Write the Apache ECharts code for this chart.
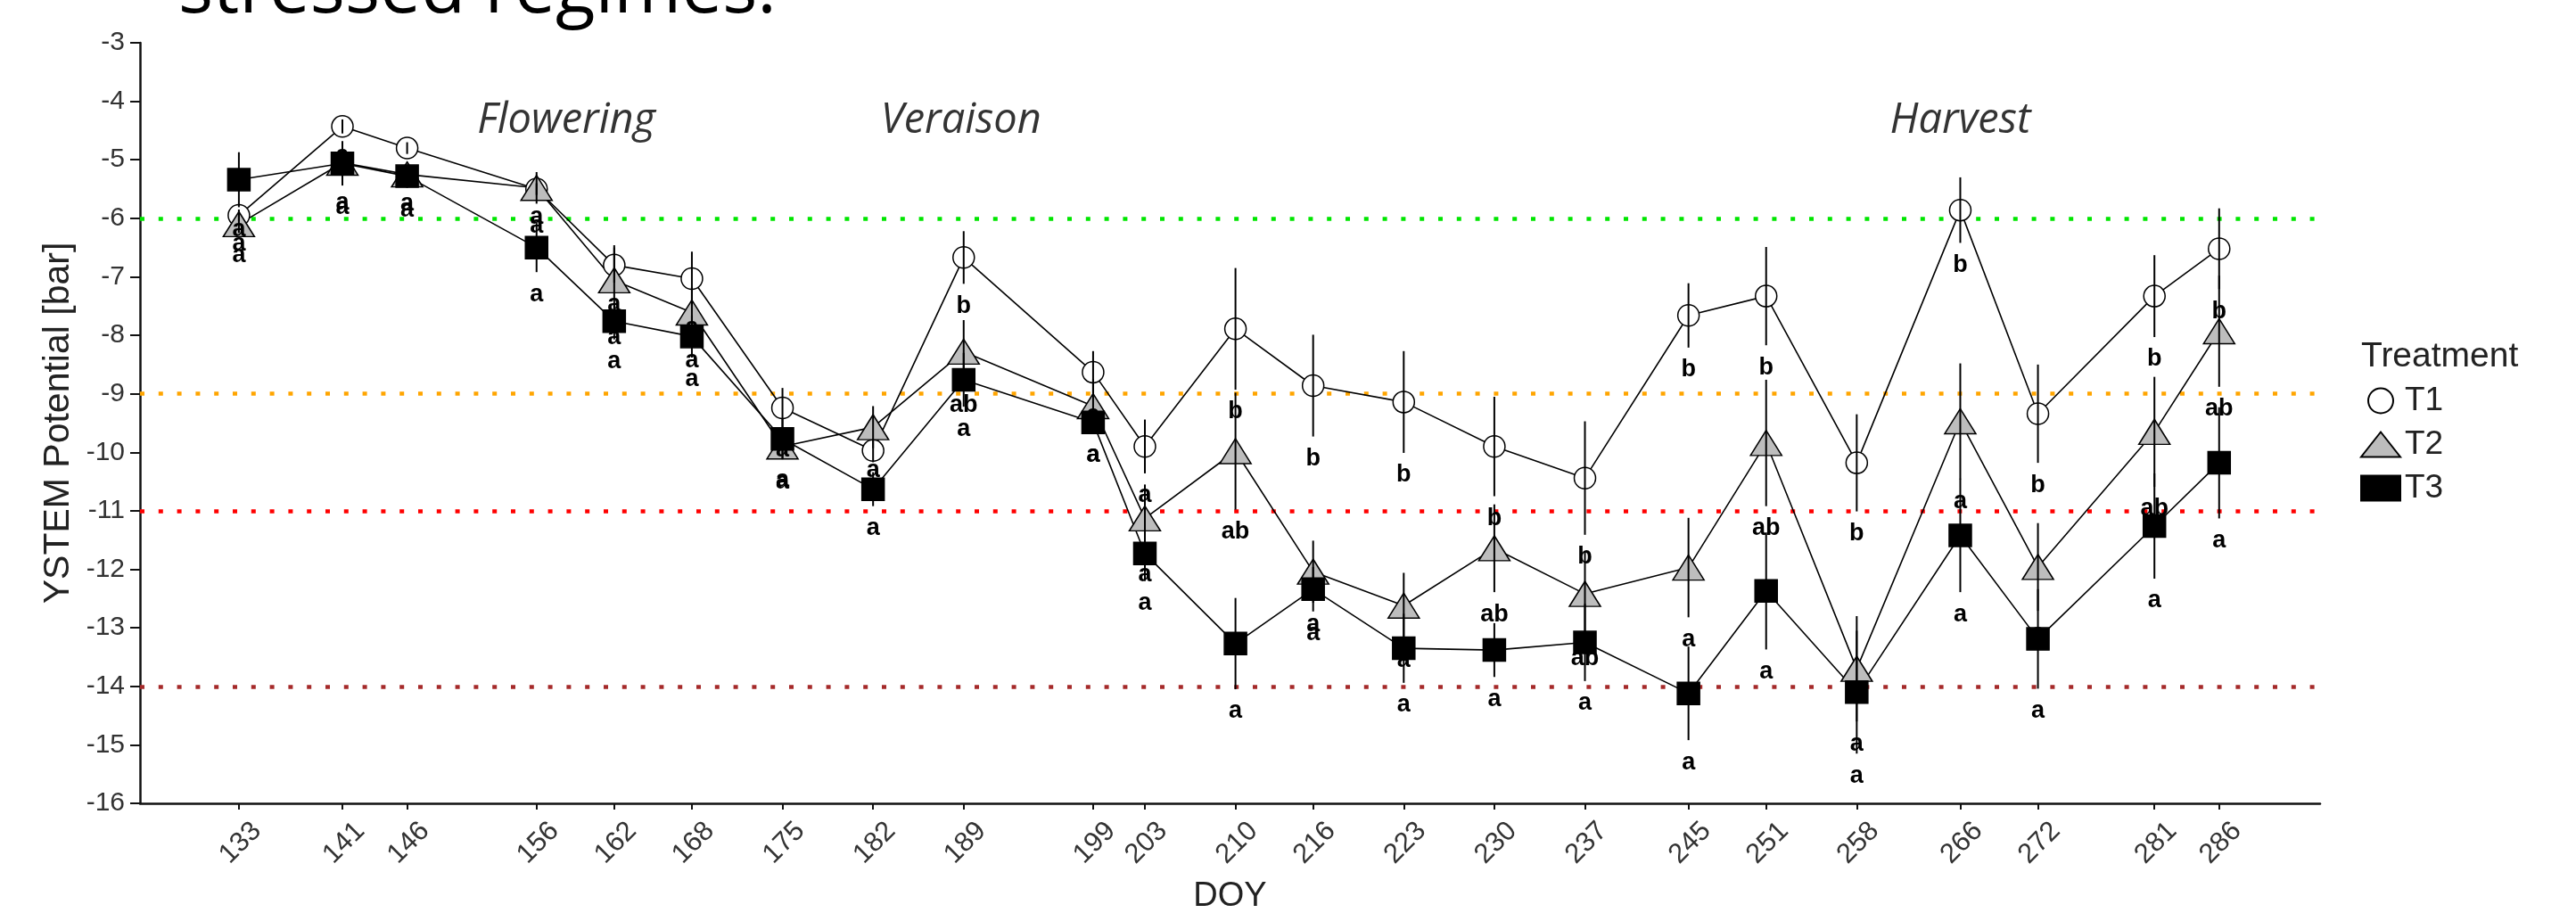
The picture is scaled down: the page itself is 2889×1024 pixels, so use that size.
<!DOCTYPE html>
<html>
<head>
<meta charset="utf-8">
<script src="https://cdn.jsdelivr.net/npm/echarts@6/dist/echarts.min.js"></script>
<style>
html,body{margin:0;padding:0;background:#fff;}
#chart{width:2889px;height:1024px;}
</style>
</head>
<body>
<div id="chart"></div>
<script>
// ---- data ----
const doy = [133,141,146,156,162,168,175,182,189,199,203,210,216,223,230,237,245,251,258,266,272,281,286];

const t1Mean = [-5.95,-4.43,-4.8,-5.5,-6.8,-7.03,-9.24,-9.97,-6.67,-8.63,-9.9,-7.89,-8.86,-9.14,-9.9,-10.44,-7.66,-7.33,-10.18,-5.86,-9.34,-7.33,-6.52];
const t2Mean = [-6.1,-5.05,-5.25,-5.48,-7.06,-7.61,-9.9,-9.57,-8.28,-9.21,-11.13,-9.98,-12.04,-12.62,-11.64,-12.42,-11.97,-9.84,-13.7,-9.47,-11.96,-9.65,-7.93];
const t3Mean = [-5.34,-5.06,-5.28,-6.5,-7.76,-8.02,-9.77,-10.63,-8.76,-9.49,-11.73,-13.27,-12.34,-13.35,-13.38,-13.25,-14.12,-12.37,-14.1,-11.42,-13.19,-11.26,-10.18];

const t1Se = [0.1,0.12,0.1,0.1,0.3,0.46,0.34,0.2,0.45,0.36,0.46,1.04,0.87,0.87,0.85,0.97,0.55,0.84,0.83,0.56,0.84,0.7,0.69];
const t2Se = [0.15,0.3,0.12,0.27,0.6,0.44,0.2,0.36,0.54,0.46,0.58,1.0,0.53,0.56,0.75,0.73,0.85,1.08,0.9,0.99,0.75,0.94,0.95];
const t3Se = [0.47,0.38,0.2,0.42,0.31,0.36,0.35,0.29,0.46,0.18,0.47,0.78,0.38,0.59,0.46,0.66,0.8,1.0,1.05,0.97,0.85,0.9,0.95];

const t1Letters = ['a','a','a','a','a','a','a','a','b','a','a','b','b','b','b','b','b','b','b','b','b','b','b'];
const t2Letters = ['a','a','a','a','a','a','a','a','ab','a','a','ab','a','a','ab','ab','a','ab','a','a','a','ab','ab'];
const t3Letters = ['a','a','a','a','a','a','a','a','a','a','a','a','a','a','a','a','a','a','a','a','a','a','a'];

const thresholds = [-6, -9, -11, -14];
const thresholdColors = ['#00e600', '#ffa500', '#ff0000', '#a52a2a'];

const phaseNames = ['Flowering', 'Veraison', 'Harvest'];
const phaseDoy = [158.3, 188.8, 266.0];
const phaseY = [-4.33, -4.33, -4.33];

// ---- chart ----
const FONT = '"Liberation Sans", Arial, sans-serif';
const LETTER_GAP = 0.38; // data units below the error bar end

function pairs(means){ return doy.map((d,i)=>[d, means[i]]); }

function errSeries(name, means, ses, letters){
  const data = doy.map((d,i)=>[d, means[i], ses[i]]);
  return {
    type:'custom', name: name + ' err', data: data, z: 5, silent: true,
    encode:{x:0, y:1},
    renderItem: function(params, api){
      const x = api.value(0), m = api.value(1), s = api.value(2);
      const top = api.coord([x, m + s]);
      const bot = api.coord([x, m - s]);
      const lab = api.coord([x, m - s - LETTER_GAP]);
      return {type:'group', children:[
        {type:'line', shape:{x1:top[0], y1:top[1], x2:bot[0], y2:bot[1]},
         style:{stroke:'#000', lineWidth:2}},
        {type:'text', x: lab[0], y: lab[1],
         style:{text: letters[params.dataIndex], fill:'#000',
                font:'bold 27px ' + FONT, align:'center', verticalAlign:'middle'}}
      ]};
    }
  };
}

function lineSeries(name, means, symbol, size, fill){
  return {
    type:'line', name: name, data: pairs(means), z: 3,
    symbol: symbol, symbolSize: size, showSymbol: true,
    lineStyle:{color:'#000', width:1.6},
    itemStyle:{color: fill, borderColor:'#000', borderWidth:1.5},
    emphasis:{disabled:true}
  };
}

const markLines = thresholds.map((v,i)=>({
  yAxis: v,
  lineStyle:{color: thresholdColors[i], width:4.5, type:[5, 15.8]}
}));

const series = [
  Object.assign(lineSeries('T1', t1Mean, 'circle', 24, '#ffffff'), {
    markLine:{silent:true, symbol:['none','none'], label:{show:false}, data: markLines, z:1}
  }),
  lineSeries('T2', t2Mean, 'triangle', [35, 28], '#bdbdbd'),
  lineSeries('T3', t3Mean, 'rect', 25, '#000000'),
  errSeries('T1', t1Mean, t1Se, t1Letters),
  errSeries('T2', t2Mean, t2Se, t2Letters),
  errSeries('T3', t3Mean, t3Se, t3Letters),
  {
    type:'scatter', name:'phases', silent:true, symbolSize:0, z:6,
    data: phaseNames.map((n,i)=>({name:n, value:[phaseDoy[i], phaseY[i]]})),
    label:{show:true, position:'inside', formatter: p => p.name,
      fontFamily:'"Open Sans", sans-serif', fontStyle:'italic', fontSize:47, color:'#000'}
  }
];

const chart = echarts.init(document.getElementById('chart'), null, {renderer:'canvas'});
chart.setOption({
  animation:false,
  backgroundColor:'#ffffff',
  grid:{left:157, right:287, top:48, bottom:123, containLabel:false, outerBoundsMode:'none'},
  xAxis:{
    type:'value', min:125.36, max:293.8,
    name:'DOY', nameLocation:'middle', nameGap:86,
    nameTextStyle:{fontFamily:FONT, fontSize:38, color:'#222'},
    axisLine:{show:true, onZero:false, lineStyle:{color:'#111', width:2.5}},
    axisTick:{show:true, length:7, customValues: doy, lineStyle:{color:'#111', width:2}},
    axisLabel:{show:true, customValues: doy, rotate:45, align:'right', verticalAlign:'top',
      margin:6, padding:[13,0,0,0], fontFamily:FONT, fontSize:31, color:'#333',
      formatter: v => String(Math.round(v))},
    splitLine:{show:false}
  },
  yAxis:{
    type:'value', min:-16, max:-3, interval:1,
    name:'YSTEM Potential [bar]', nameLocation:'middle', nameGap:70,
    nameTextStyle:{fontFamily:FONT, fontSize:41, color:'#222'},
    axisLine:{show:true, onZero:false, lineStyle:{color:'#111', width:2.5}},
    axisTick:{show:true, length:11, lineStyle:{color:'#111', width:2}},
    axisLabel:{margin:17, fontFamily:FONT, fontSize:30, color:'#333'},
    splitLine:{show:false}
  },
  legend:{
    show:true, orient:'vertical', left:2642, top:426,
    itemWidth:44, itemHeight:28, itemGap:12,
    data:[{name:'T1', icon:'circle'}, {name:'T2', icon:'triangle'}, {name:'T3', icon:'rect'}],
    textStyle:{fontFamily:FONT, fontSize:37, color:'#222', lineHeight:28}
  },
  graphic:[
    {type:'text', x:2648, y:400, silent:true,
     style:{text:'Treatment', font:'39px ' + FONT, fill:'#222', align:'left', verticalAlign:'middle'}},
    {type:'text', x:200, y:-9, silent:true,
     style:{text:'stressed regimes.', font:'82px "Open Sans", sans-serif', fill:'#000', align:'left', verticalAlign:'middle'}}
  ],
  series: series
});
</script>
</body>
</html>
